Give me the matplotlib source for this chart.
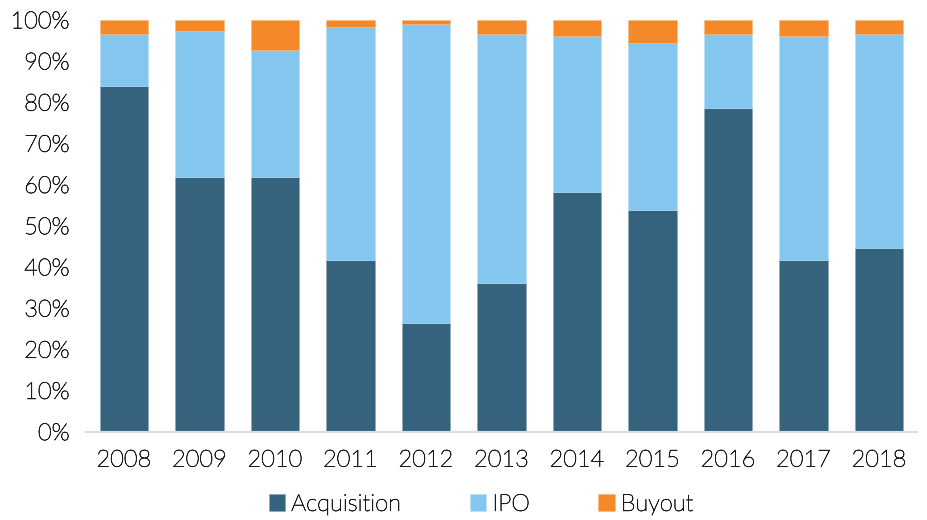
import numpy as np
import matplotlib.pyplot as plt
import matplotlib.patheffects as pe
from matplotlib.ticker import PercentFormatter

years = ['2008', '2009', '2010', '2011', '2012', '2013', '2014', '2015', '2016', '2017', '2018']
acquisition = [84.0, 61.7, 61.7, 41.7, 26.3, 36.0, 58.2, 53.7, 78.5, 41.7, 44.6]
ipo = [12.6, 35.5, 30.9, 56.6, 72.6, 60.6, 37.9, 40.6, 18.1, 54.4, 52.0]
buyout = [3.4, 2.8, 7.4, 1.7, 1.1, 3.4, 3.9, 5.7, 3.4, 3.9, 3.4]

plt.rcParams['font.family'] = ['Lato', 'DejaVu Sans']

acq = np.array(acquisition)
ip = np.array(ipo)
bo = np.array(buyout)
x = np.arange(len(years))

fig = plt.figure(figsize=(9.27, 5.2), dpi=100)
ax = fig.add_axes([0.093, 0.170, 0.896, 0.792])

w = 0.64
ax.bar(x, acq, w, color='#35637D', edgecolor='#8aa6b8', linewidth=0.4, label='Acquisition')
ax.bar(x, ip, w, bottom=acq, color='#83C6EE', edgecolor='#b9def5', linewidth=0.4, label='IPO')
ax.bar(x, bo, w, bottom=acq + ip, color='#F5892A', edgecolor='#f8b77c', linewidth=0.4, label='Buyout')

ax.set_xlim(-0.5, len(years) - 0.5)
ax.set_ylim(0, 100)
ax.set_yticks(np.arange(0, 101, 10))
ax.yaxis.set_major_formatter(PercentFormatter(decimals=0))
ax.set_xticks(x)
ax.set_xticklabels(years)

for s in ['top', 'right', 'left']:
    ax.spines[s].set_visible(False)
ax.spines['bottom'].set_color('#DCDDE3')
ax.spines['bottom'].set_linewidth(1.5)

txt_color = '#1a1a1a'
thicken = [pe.withStroke(linewidth=0.45, foreground=txt_color)]

ax.tick_params(axis='both', length=0, labelsize=17, labelcolor=txt_color)
ax.tick_params(axis='y', pad=12)
ax.tick_params(axis='x', pad=13)
for lab in ax.get_xticklabels() + ax.get_yticklabels():
    lab.set_fontweight('light')
    lab.set_path_effects(thicken)

leg = fig.legend(loc='center', bbox_to_anchor=(0.519, 0.030), ncol=3, frameon=False,
                 fontsize=17, handlelength=0.7, handleheight=0.7, handletextpad=0.25,
                 columnspacing=2.9)
for t in leg.get_texts():
    t.set_color(txt_color)
    t.set_fontweight('light')
    t.set_path_effects(thicken)

plt.savefig('out.png', dpi=100)
